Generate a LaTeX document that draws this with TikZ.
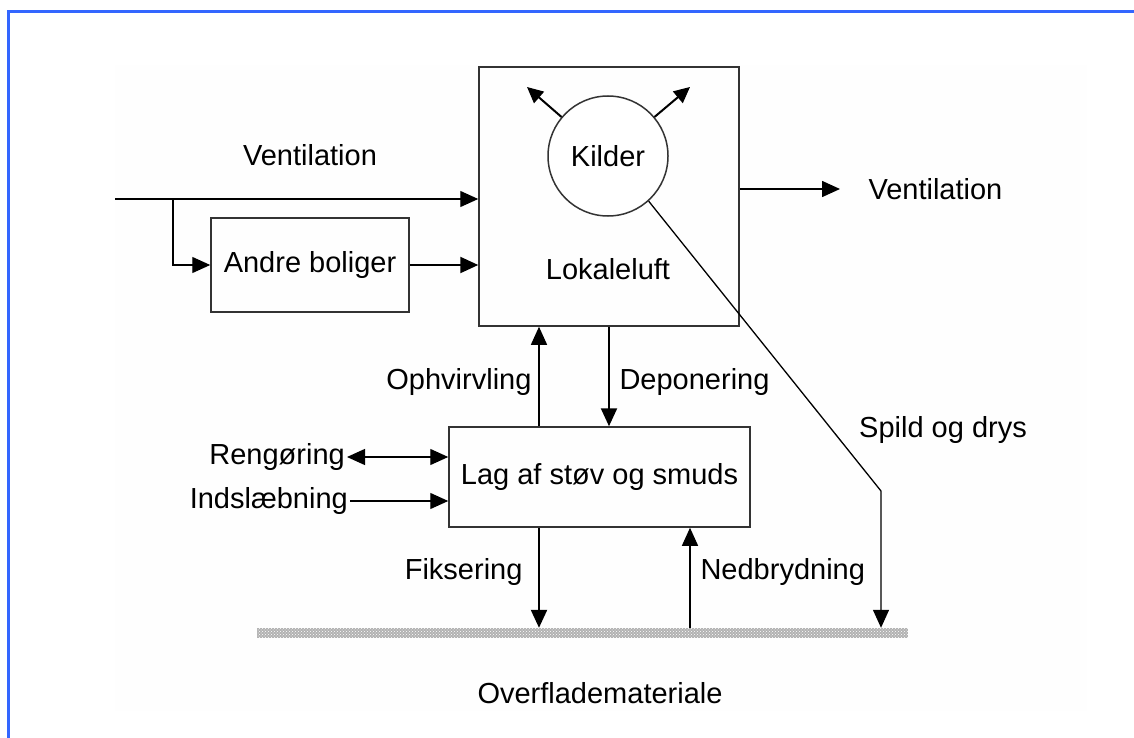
\documentclass[tikz,border=0pt]{standalone}
\usepackage{fontspec}
\setmainfont{Liberation Sans}
\usetikzlibrary{arrows.meta,patterns}
\definecolor{frameblue}{RGB}{51,102,255}

\begin{document}
\begin{tikzpicture}[x=1pt,y=-1pt,
  >={Triangle[length=18pt,width=16pt]},
  every node/.style={font=\fontsize{29}{32}\selectfont},
  box/.style={draw=black!80,line width=1.5pt,inner sep=0pt},
  flow/.style={->,line width=1.3pt},
  bigflow/.style={->,line width=2.2pt}]
\useasboundingbox (0,0) rectangle (1134,738);
% frame and faint background
\draw[frameblue,line width=3pt] (8.5,738) -- (8.5,11.5) -- (1134,11.5);
\fill[black!0.5] (115,65) rectangle (1087,711);
% boxes
\node[box,minimum width=260pt,minimum height=259pt] (lok) at (609,196.5) {};
\node[box,circle,minimum size=120pt,fill=white] (kilder) at (608,156) {Kilder};
\node (lokluft) at (608,269) {Lokaleluft};
\node[box,minimum width=198pt,minimum height=94pt] (andre) at (310,265) {Andre boliger};
\node[box,minimum width=301pt,minimum height=100pt] (lag) at (599.5,477) {Lag af støv og smuds};
\node[fill=gray!60,minimum width=651pt,minimum height=10pt,inner sep=0pt] (surf) at (582.5,633) {};
\fill[pattern=crosshatch dots,pattern color=white] (surf.north west) rectangle (surf.south east);
% labels
\node (ventin) at (310,155) {Ventilation};
\node[right] (ventout) at (865,189) {Ventilation};
\node[left] (ophv) at (535,382) {Ophvirvling};
\node[right] (depo) at (616,382) {Deponering};
\node[left,inner sep=2pt] (reng) at (347,457) {Rengøring};
\node[left,inner sep=2pt] (inds) at (350,501) {Indslæbning};
\node[left] (fiks) at (526,572) {Fiksering};
\node[right] (nedb) at (697,572) {Nedbrydning};
\node (spild) at (943,430) {Spild og drys};
\node (overfl) at (600,693) {Overflademateriale};
% free ends
\coordinate (in) at (115,199);
\coordinate (split) at (173,199);
\coordinate (outend) at (840,189);
\coordinate (kul) at (527,87);
\coordinate (kur) at (690,87);
\coordinate (bend) at (881,491);
% connectors
\draw[flow] (in) -- (lok.west |- in);
\draw[flow] (split) |- (andre.west);
\draw[bigflow] (andre.east) -- (andre.east -| lok.west);
\draw[->,line width=1.6pt] (lok.east |- outend) -- (outend);
\draw[->,line width=2pt,>={Triangle[length=16pt,width=15pt]}] (kilder.140) -- (kul);
\draw[->,line width=2pt,>={Triangle[length=16pt,width=15pt]}] (kilder.40) -- (kur);
\draw[flow] (kilder.-48) -- (bend) -- (bend |- surf.north);
\draw[flow] ([xshift=-60.5pt]lag.north) -- ([xshift=-60.5pt]lag.north |- lok.south);
\draw[bigflow] ([xshift=9.5pt]lag.north |- lok.south) -- ([xshift=9.5pt]lag.north);
\draw[<->,line width=1.3pt] (reng.east) -- (reng.east -| lag.west);
\draw[flow] (inds.east) -- (inds.east -| lag.west);
\draw[bigflow] ([xshift=-60.5pt]lag.south) -- ([xshift=-60.5pt]lag.south |- surf.north);
\draw[flow] ([xshift=90.5pt]lag.south |- surf.north) -- ([xshift=90.5pt]lag.south);
\end{tikzpicture}
\end{document}
